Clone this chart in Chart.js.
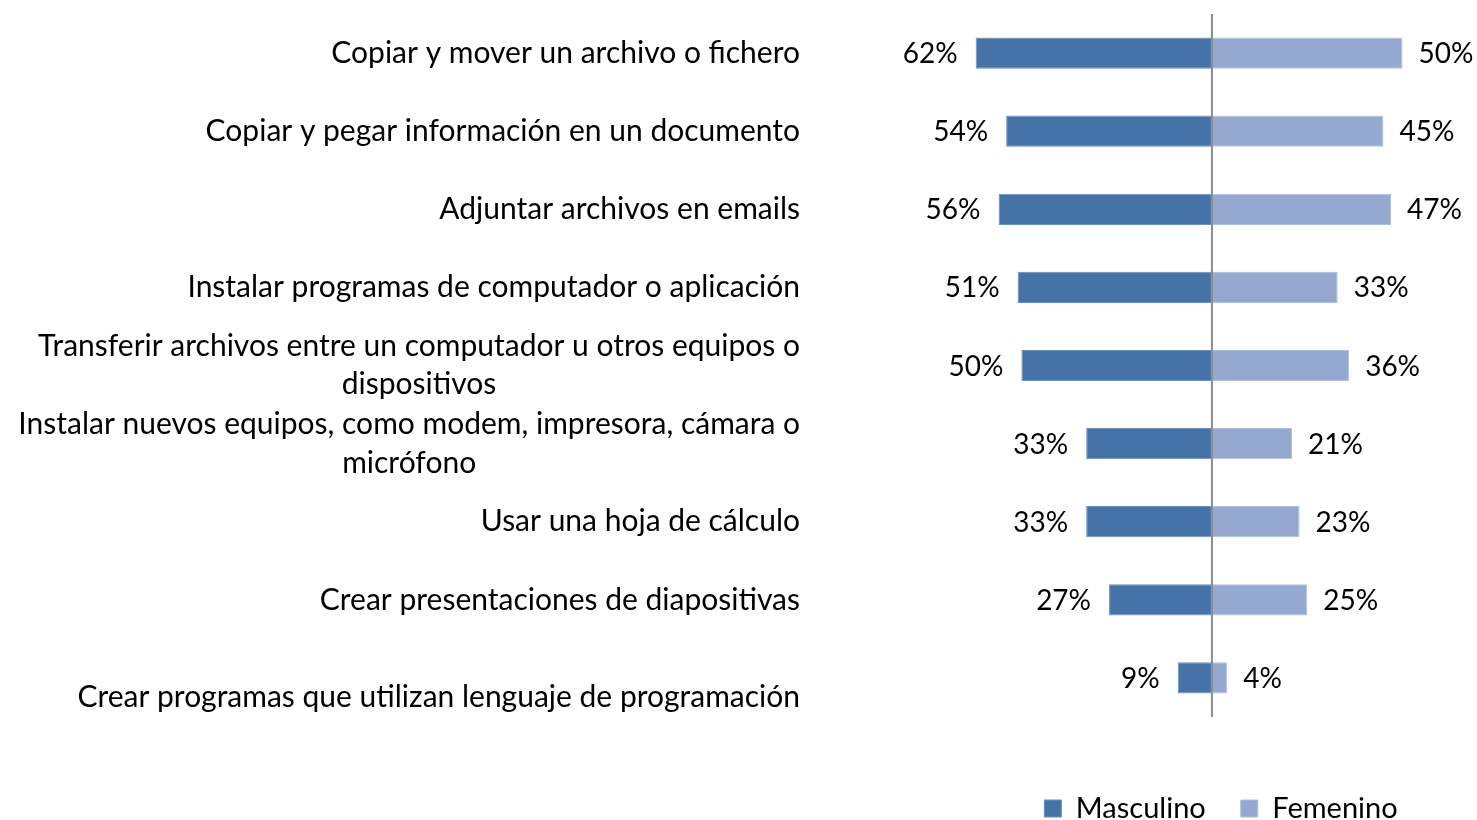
<!DOCTYPE html>
<html>
<head>
<meta charset="utf-8">
<script src="https://cdn.jsdelivr.net/npm/chart.js@4.4.1/dist/chart.umd.min.js"></script>
<style>
    body { margin: 0; overflow: hidden; background: #fff; }
    #wrap { width: 1477px; height: 833px; }
</style>
</head>
<body>
<div id="wrap"><canvas id="myChart"></canvas></div>
<script>
// categories (multi-line labels kept as arrays, like the original)
const categories = [
    ["Copiar y mover un archivo o fichero"],
    ["Copiar y pegar información en un documento"],
    ["Adjuntar archivos en emails"],
    ["Instalar programas de computador o aplicación"],
    ["Transferir archivos entre un computador u otros equipos o", "dispositivos"],
    ["Instalar nuevos equipos, como modem, impresora, cámara o", "micrófono"],
    ["Usar una hoja de cálculo"],
    ["Crear presentaciones de diapositivas"],
    ["", "Crear programas que utilizan lenguaje de programación"]
];
const masculino = [62, 54, 56, 51, 50, 33, 33, 27, 9];
const femenino  = [50, 45, 47, 33, 36, 21, 23, 25, 4];
const seriesNames = ["Masculino", "Femenino"];

const FONT = "Lato";

// category labels, right edge at 800, lines centered on each other
const categoryLabels = {
    id: "categoryLabels",
    afterDraw(chart) {
        const ctx = chart.ctx;
        const y = chart.scales.y;
        const lh = 38.5;
        ctx.save();
        ctx.font = "30px " + FONT;
        ctx.fillStyle = "#000";
        ctx.textAlign = "center";
        ctx.textBaseline = "middle";
        categories.forEach((lines, i) => {
            const cy = y.getPixelForValue(i);
            let maxW = 0;
            lines.forEach(l => { maxW = Math.max(maxW, ctx.measureText(l).width); });
            const cx = 800 - maxW / 2;
            const y0 = cy - (lines.length - 1) * lh / 2;
            lines.forEach((l, k) => ctx.fillText(l, cx, y0 + k * lh));
        });
        ctx.restore();
    }
};

// value labels outside the bars + the grey zero line
const valueLabels = {
    id: "valueLabels",
    afterDatasetsDraw(chart) {
        const ctx = chart.ctx;
        const x = chart.scales.x;
        const area = chart.chartArea;

        // zero line
        const x0 = x.getPixelForValue(0);
        ctx.save();
        ctx.strokeStyle = "#8c8c8c";
        ctx.lineWidth = 2;
        ctx.beginPath();
        ctx.moveTo(x0, area.top);
        ctx.lineTo(x0, area.bottom);
        ctx.stroke();

        ctx.font = "28px " + FONT;
        ctx.fillStyle = "#000";
        ctx.textBaseline = "middle";
        chart.data.datasets.forEach((ds, di) => {
            const meta = chart.getDatasetMeta(di);
            meta.data.forEach((bar, i) => {
                const v = ds.data[i];
                const txt = Math.abs(v) + "%";
                if (v < 0) {
                    ctx.textAlign = "right";
                    ctx.fillText(txt, bar.x - 18, bar.y + 1);
                } else {
                    ctx.textAlign = "left";
                    ctx.fillText(txt, bar.x + 16, bar.y + 1);
                }
            });
        });
        ctx.restore();
    }
};

new Chart(document.getElementById("myChart"), {
    type: "bar",
    data: {
        labels: categories,
        datasets: [{
            label: seriesNames[0],
            data: masculino.map(v => -v),
            backgroundColor: "#4673a7",
            borderColor: "#6b8fc0",
            borderWidth: 1,
            borderSkipped: false,
            categoryPercentage: 1,
            barPercentage: 0.4
        }, {
            label: seriesNames[1],
            data: femenino,
            backgroundColor: "#95a9d0",
            borderColor: "#aebfe0",
            borderWidth: 1,
            borderSkipped: false,
            categoryPercentage: 1,
            barPercentage: 0.4
        }]
    },
    options: {
        indexAxis: "y",
        responsive: true,
        maintainAspectRatio: false,
        animation: false,
        layout: {
            padding: { left: 965, right: 0, top: 14, bottom: 0 }
        },
        scales: {
            x: {
                stacked: true,
                min: -64.8,
                max: 69.55,
                ticks: { display: false },
                grid: { display: false },
                border: { display: false },
                afterFit(axis) { axis.height = 42; }
            },
            y: {
                stacked: true,
                display: false
            }
        },
        plugins: {
            tooltip: { enabled: false },
            legend: {
                position: "bottom",
                labels: {
                    font: { family: FONT, size: 29 },
                    color: "#000",
                    boxWidth: 17,
                    boxHeight: 17,
                    padding: 35
                }
            }
        }
    },
    plugins: [categoryLabels, valueLabels]
});
</script>
</body>
</html>
